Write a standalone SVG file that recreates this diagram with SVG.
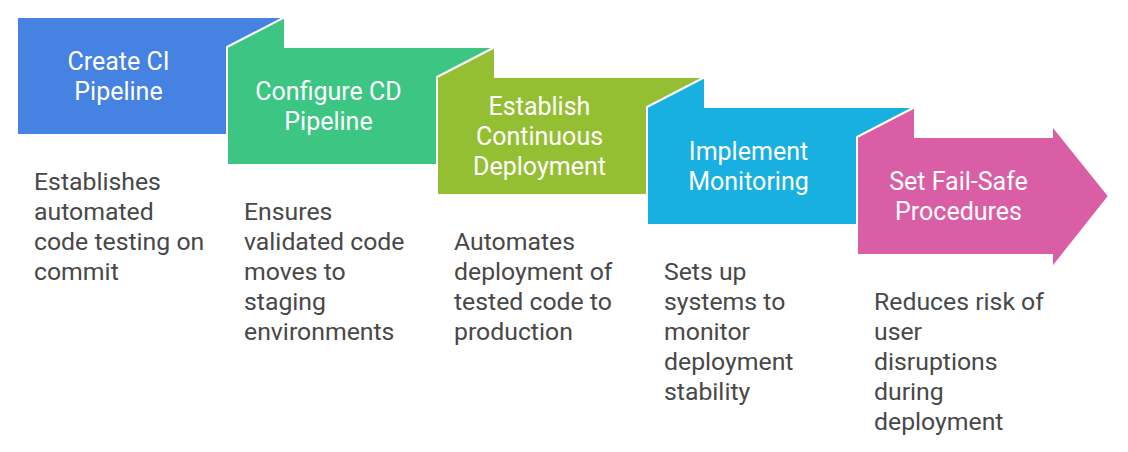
<svg xmlns="http://www.w3.org/2000/svg" width="1128" height="452" viewBox="0 0 1128 452">
<style>
.shape{stroke:#ffffff;stroke-width:2;stroke-linejoin:miter}
.title{font-family:Roboto,"Liberation Sans",sans-serif;font-size:25px;fill:#ffffff;text-anchor:middle}
.desc{font-family:Roboto,"Liberation Sans",sans-serif;font-size:24.8px;fill:#484848}
</style>
<rect width="1128" height="452" fill="#ffffff"/>
<g id="step1">
<polygon class="shape" points="17,17 285,17 285,135 17,135" fill="#4582E1" stroke="none"/>
<text class="title" x="118.5" y="70">Create CI</text>
<text class="title" x="118.5" y="100">Pipeline</text>
</g>
<g id="step2">
<polygon class="shape" points="227,47 285,17 285,47 495,47 495,165 227,165" fill="#3DC584"/>
<text class="title" x="328.5" y="100">Configure CD</text>
<text class="title" x="328.5" y="130">Pipeline</text>
</g>
<g id="step3">
<polygon class="shape" points="437,77 495,47 495,77 705,77 705,195 437,195" fill="#95BF33"/>
<text class="title" x="539.5" y="115">Establish</text>
<text class="title" x="539.5" y="145">Continuous</text>
<text class="title" x="539.5" y="175">Deployment</text>
</g>
<g id="step4">
<polygon class="shape" points="647,107 705,77 705,107 915,107 915,225 647,225" fill="#17B0E0"/>
<text class="title" x="748.5" y="160">Implement</text>
<text class="title" x="748.5" y="190">Monitoring</text>
</g>
<g id="step5">
<polygon class="shape" points="857,137 915,107 915,137 1052,137 1052,125 1109,196 1052,268 1052,255 857,255" fill="#D95EA5"/>
<text class="title" x="958.5" y="190">Set Fail-Safe</text>
<text class="title" x="958.5" y="220">Procedures</text>
</g>
<g id="desc1">
<text class="desc" x="34" y="190">Establishes</text>
<text class="desc" x="34" y="220">automated</text>
<text class="desc" x="34" y="250">code testing on</text>
<text class="desc" x="34" y="280">commit</text>
</g>
<g id="desc2">
<text class="desc" x="244" y="220">Ensures</text>
<text class="desc" x="244" y="250">validated code</text>
<text class="desc" x="244" y="280">moves to</text>
<text class="desc" x="244" y="310">staging</text>
<text class="desc" x="244" y="340">environments</text>
</g>
<g id="desc3">
<text class="desc" x="454" y="250">Automates</text>
<text class="desc" x="454" y="280">deployment of</text>
<text class="desc" x="454" y="310">tested code to</text>
<text class="desc" x="454" y="340">production</text>
</g>
<g id="desc4">
<text class="desc" x="664" y="280">Sets up</text>
<text class="desc" x="664" y="310">systems to</text>
<text class="desc" x="664" y="340">monitor</text>
<text class="desc" x="664" y="370">deployment</text>
<text class="desc" x="664" y="400">stability</text>
</g>
<g id="desc5">
<text class="desc" x="874" y="310">Reduces risk of</text>
<text class="desc" x="874" y="340">user</text>
<text class="desc" x="874" y="370">disruptions</text>
<text class="desc" x="874" y="400">during</text>
<text class="desc" x="874" y="430">deployment</text>
</g>
<g id="connectors"></g>
</svg>
